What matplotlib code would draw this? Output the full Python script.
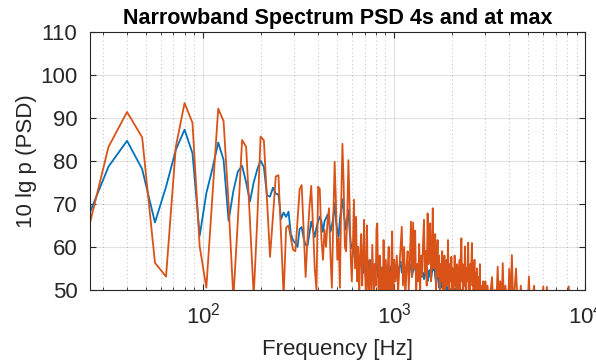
import numpy as np
import matplotlib
matplotlib.use('Agg')
import matplotlib.pyplot as plt
from matplotlib.ticker import LogLocator, NullFormatter

plt.rcParams['font.family'] = ['Liberation Sans', 'DejaVu Sans']

# PSD level in dB, 4 s average (blue) and at maximum (orange)
# low band: 8 Hz bins starting at 24 Hz
psd_4s_low = [65, 78.7, 84.7, 78.1, 65.7, 74, 82.6, 87.3, 81.8, 62.6,
              72.5, 78.3, 84.3, 80.3, 66.1, 73, 77.5, 78.9, 75, 70.6,
              75, 78, 80.1, 78.6, 72, 71.7, 73.8, 72.4, 72.2, 66.5,
              68, 67, 68.2, 63, 61.5, 60.9, 60, 64.2, 64.6, 62,
              60.5, 60.3, 63, 65.9, 64, 62.3, 64.5, 66, 67, 66,
              63.5, 66, 66.7, 67.5, 66, 63.5, 64.9, 67, 70.2, 66,
              64, 62.3, 66.5, 69, 71.1, 68, 66, 64, 66.5, 68.6,
              64, 61, 59.7,
              60, 58.5, 57, 58, 56.5, 57.5, 56, 55.8, 56.5, 55,
              57, 54, 55.5, 53.1, 55, 56.5, 55, 57, 54, 53,
              55, 52, 54.5, 56, 55, 56, 54, 53, 55, 54.5,
              55.5, 53.5, 54, 55, 54.8, 53, 54.5, 55.5, 53, 54,
              55, 53.5, 53, 54.5, 55.5, 54, 53, 55, 54, 55]
psd_max_low = [60.5, 83.3, 91.4, 85.5, 56.3, 53.1, 83.3, 93.5, 88.9, 60.1,
               50.5, 72, 92.2, 89.3, 70, 48, 66, 84.9, 83.3, 66,
               48.5, 66, 85.7, 84.8, 71, 57.7, 67, 76.4, 76.7, 62.4,
               48.5, 64.5, 65, 62, 59.3, 59, 66, 73.4, 74.4, 64,
               53, 62, 69, 74.2, 65, 55, 50, 74, 73.5, 62,
               57, 64, 60, 66, 69, 58, 50.5, 66, 79.8, 70,
               57, 62, 50.5, 70, 84, 75, 60, 59, 67, 80.2,
               70, 58, 52,
               60, 71, 55, 67, 52, 60, 48, 58, 63, 51,
               57, 66.3, 54, 48, 65, 52, 47, 57, 53, 49,
               60.5, 54, 48, 56, 51, 64.3, 65.5, 52, 48, 58,
               53, 47, 55, 50, 61.6, 53, 48, 57, 52, 47,
               56, 60, 50, 54, 48, 58, 63.6, 52, 49, 57]

# mid band: 16 Hz bins starting at 1016 Hz
psd_4s_mid = [53.7, 55, 54, 55.5, 56.6, 54, 55, 56, 53.5, 55, 56.5, 54,
              56, 55, 53, 54.5, 56, 55, 53.5, 54, 55.5, 53, 54, 55, 53.5,
              54, 52.5, 53.3, 55, 54, 52, 53.5, 54.6, 53, 52.5, 54, 55,
              54.6, 55.4, 53, 51.5, 54, 55, 52, 50.5, 52, 51, 50.5, 52,
              50.5, 51.5, 50, 49, 51, 50, 48.5, 50.5, 51, 49.5, 50, 48.5, 50.3,
              49, 50.5, 48.5, 49.5, 50.3, 48, 49, 50.5, 48.5, 49, 50.2, 48,
              49.5, 50.3, 48, 49, 50, 48.5, 47, 49.5, 48, 46.5, 48, 47, 45.5,
              47, 46, 45, 46, 44, 45]
psd_max_mid = [52, 58, 49, 55, 60, 64.7, 51, 60, 48, 55, 59, 50,
               57, 65.9, 53, 65.7, 55, 63.8, 49, 56, 52, 60.7, 50, 58, 53,
               61, 66.3, 54, 59, 51, 67.8, 56, 60, 65.5, 52, 58, 69,
               55, 61, 63, 50, 57, 61.6, 53, 58, 49, 56, 52, 59,
               50, 55, 58, 48, 54, 57, 51, 61.6, 53, 49, 56, 52, 57.7,
               50, 55, 48, 52, 58, 51, 55, 49, 56, 52, 48, 54,
               57, 50, 58, 62, 52, 56, 49, 55, 51, 60.1, 53, 48,
               55, 52, 57, 61, 50, 54, 48, 56, 52, 57, 60.9, 51,
               55, 49, 53, 57, 50, 54, 48, 52, 55, 49, 51, 47,
               53, 49, 56, 48, 51, 47, 50, 46, 49, 52, 47, 45, 48, 46, 52]

# high band, orange only
freq_max_high = [3030, 3080, 3130, 3180, 3250, 3300, 3360, 3420, 3480, 3530,
                 3590, 3650, 3700, 3760, 3820, 3880, 3940, 4000, 4060, 4130,
                 4200, 4270, 4340, 4420, 4500, 4600, 4700, 4800, 4900, 5000,
                 5070, 5150, 5250, 5400, 5500, 5650, 5800, 6030, 6100, 6300,
                 6400, 6700, 7000, 7400, 7800, 8100, 8200, 8300, 8700]
psd_max_high = [47, 51, 46, 49, 53, 47, 50, 46, 55.4, 48,
                52, 47, 56.2, 46, 51, 48, 45, 54.9, 47, 58.1,
                46, 50, 55, 47, 45, 51, 46, 48, 44, 47,
                53.1, 45, 47, 51, 44, 46, 43, 50.8, 44, 50.7,
                43, 42, 41, 40, 41, 42, 50.8, 42, 40]


def bins(start, step, n):
    return start + step * np.arange(n)


f_4s = np.concatenate([bins(24, 8, len(psd_4s_low)), bins(1016, 16, len(psd_4s_mid))])
p_4s = np.concatenate([psd_4s_low, psd_4s_mid])
f_max = np.concatenate([bins(24, 8, len(psd_max_low)), bins(1016, 16, len(psd_max_mid)), freq_max_high])
p_max = np.concatenate([psd_max_low, psd_max_mid, psd_max_high])

fig = plt.figure(figsize=(5.96, 3.61), dpi=100)
ax = fig.add_axes([0.151, 0.197, 0.831, 0.714])

ax.semilogx(f_4s, p_4s, color='#0072BD', lw=1.3)
ax.semilogx(f_max, p_max, color='#D95319', lw=1.3)

ax.set_xlim(25.6, 1e4)
ax.set_ylim(50, 110)
ax.set_yticks(range(50, 111, 10))
ax.xaxis.set_major_locator(LogLocator(base=10, numticks=10))
ax.xaxis.set_minor_locator(LogLocator(base=10, subs=np.arange(2, 10), numticks=20))
ax.xaxis.set_minor_formatter(NullFormatter())

ax.grid(which='major', color='#262626', alpha=0.13, lw=0.8, ls='-')
ax.grid(which='minor', axis='x', color='#262626', alpha=0.3, lw=0.7, ls=(0, (1, 3)))
ax.set_axisbelow(True)

ax.tick_params(which='both', direction='in', top=True, right=True, colors='#262626', labelsize=16)
ax.tick_params(which='major', length=4, pad=9)
ax.tick_params(which='minor', length=2)
ax.tick_params(axis='x', which='major', pad=9)
for s in ax.spines.values():
    s.set_color('#262626')
    s.set_linewidth(0.8)

ax.set_title('Narrowband Spectrum PSD 4s and at max', fontweight='bold', fontsize=15.5, pad=6)
ax.set_xlabel('Frequency [Hz]', fontsize=16, color='#262626', labelpad=8)
ax.set_ylabel('10 lg p (PSD)', fontsize=16, color='#262626', labelpad=2)

fig.savefig('out.png', dpi=100)
